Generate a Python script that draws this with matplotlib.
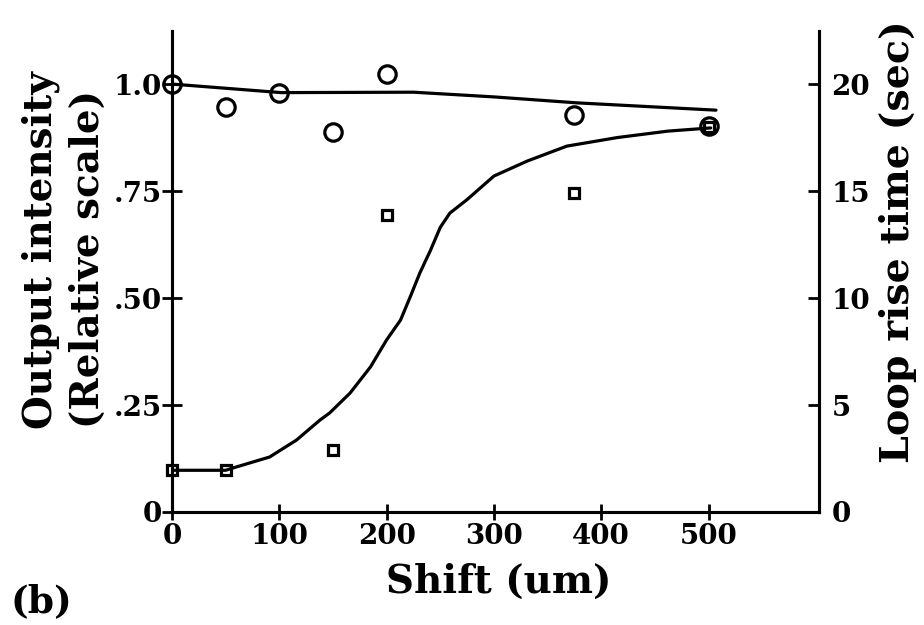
import matplotlib
matplotlib.use("Agg")
import matplotlib.pyplot as plt

# measured points: output intensity (left axis, relative)
shift_pts = [0, 50, 100, 150, 200, 375, 500]
intensity_pts = [1.00, 0.946, 0.979, 0.888, 1.023, 0.928, 0.902]

# measured points: loop rise time (right axis, sec)
rise_x = [0, 50, 150, 200, 375, 500]
rise_y = [1.95, 1.95, 2.9, 13.9, 14.9, 18.0]

# hand-drawn trend curves
int_curve_x = [0, 51, 102, 225, 300, 378, 507]
int_curve_y = [1.00, 0.990, 0.980, 0.981, 0.970, 0.956, 0.939]

rise_curve_x = [0, 50, 57, 91, 116, 138, 147, 166, 185, 200, 213, 222,
                231, 241, 250, 259, 275, 300, 331, 368, 415, 462, 502]
rise_curve_y = [1.95, 1.95, 2.06, 2.57, 3.36, 4.3, 4.63, 5.56, 6.78, 8.04,
                8.97, 10.05, 11.17, 12.24, 13.3, 13.97, 14.6, 15.7, 16.4,
                17.1, 17.5, 17.8, 17.95]

x_ticks = [0, 100, 200, 300, 400, 500]
left_ticks = [0, 0.25, 0.50, 0.75, 1.00]
left_labels = ["0", ".25", ".50", ".75", "1.0"]
right_ticks = [0, 5, 10, 15, 20]
right_labels = ["0", "5", "10", "15", "20"]

FONT = "DejaVu Serif"
plt.rcParams["font.family"] = FONT
plt.rcParams["font.weight"] = "bold"

fig = plt.figure(figsize=(9.24, 6.25), dpi=100)
ax = fig.add_axes([0.1861, 0.1808, 0.7003, 0.7696])
ax2 = ax.twinx()

ax.plot(int_curve_x, int_curve_y, color="black", lw=2.3, zorder=2,
        solid_capstyle="round", solid_joinstyle="round")
ax.plot(shift_pts, intensity_pts, ls="none", marker="o", ms=12.5,
        mfc="none", mec="black", mew=2.3, zorder=3, clip_on=False)

ax2.plot(rise_curve_x, rise_curve_y, color="black", lw=2.3, zorder=2,
         solid_capstyle="round", solid_joinstyle="round")
ax2.plot(rise_x, rise_y, ls="none", marker="s", ms=7.5,
         mfc="none", mec="black", mew=2.3, zorder=3, clip_on=False)

ax.set_xlim(0, 603)
ax.set_ylim(0, 1.124)
ax2.set_ylim(0, 22.48)

for a in (ax, ax2):
    a.spines["top"].set_visible(False)
    for s in ("left", "right", "bottom"):
        a.spines[s].set_linewidth(2.2)

ax.set_xticks(x_ticks)
ax.set_xticklabels([str(v) for v in x_ticks])
ax.set_yticks(left_ticks)
ax.set_yticklabels(left_labels)
ax2.set_yticks(right_ticks)
ax2.set_yticklabels(right_labels)

ax.tick_params(axis="x", direction="inout", length=12, width=2, pad=2,
               labelsize=20)
ax.tick_params(axis="y", direction="inout", length=14, width=2, pad=0,
               labelsize=20)
ax2.tick_params(axis="y", direction="in", length=8, width=2, pad=9,
                labelsize=20)

fig.text(0.044, 0.600, "Output intensity", rotation=90, ha="center",
         va="center", fontsize=28, fontweight="bold")
fig.text(0.095, 0.586, "(Relative scale)", rotation=90, ha="center",
         va="center", fontsize=28, fontweight="bold")
fig.text(0.972, 0.614, "Loop rise time (sec)", rotation=90, ha="center",
         va="center", fontsize=28.5, fontweight="bold")
fig.text(0.540, 0.069, "Shift (um)", ha="center", va="center",
         fontsize=28, fontweight="bold")
fig.text(0.045, 0.038, "(b)", ha="center", va="center",
         fontsize=27, fontweight="bold")

fig.savefig("out.png", dpi=100)
